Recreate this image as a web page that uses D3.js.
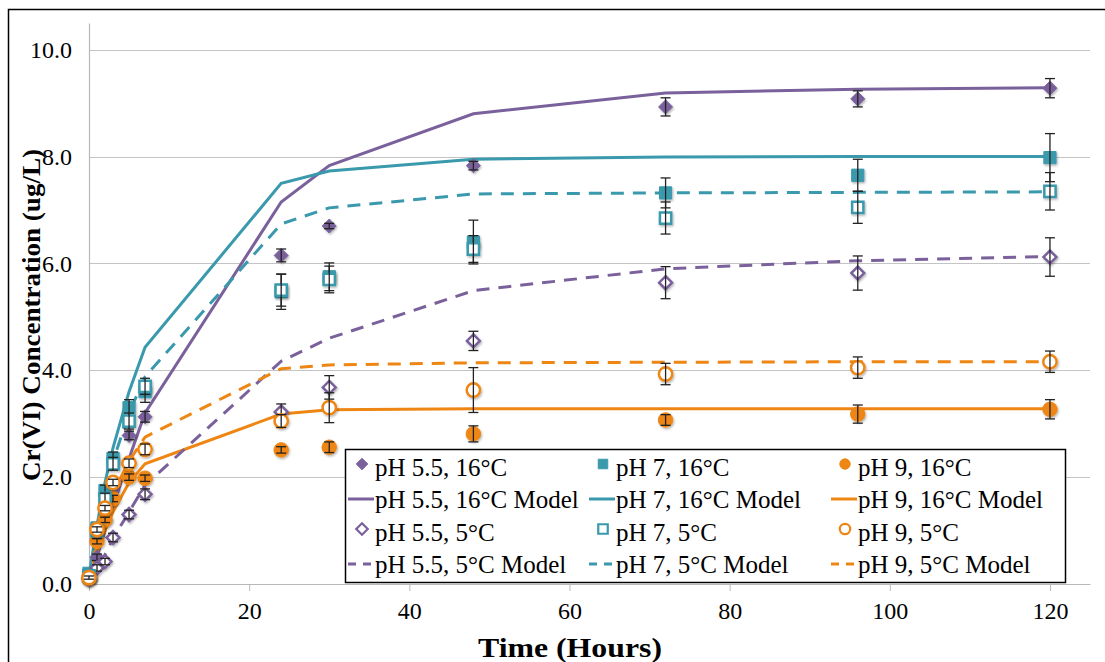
<!DOCTYPE html>
<html>
<head>
<meta charset="utf-8">
<script src="https://cdn.jsdelivr.net/npm/d3@7"></script>
<style>
  html, body { margin: 0; padding: 0; background: #fff; }
  svg { display: block; }
  text { font-family: "Liberation Serif", "Times New Roman", serif; fill: #000; }
</style>
</head>
<body>
<svg id="chart" width="1105" height="662"></svg>
<script>
// sampling times (hours)
const hours = [0, 1, 2, 3, 5, 7, 24, 30, 48, 72, 96, 120];

// measured Cr(VI), ug/L
const ph55_16 = [0.1, 0.5, 1.2, 1.75, 2.78, 3.13, 6.15, 6.7, 7.83, 8.93, 9.08, 9.28];
const ph7_16 = [0.2, 1.05, 1.75, 2.35, 3.3, 3.6, 5.47, 5.75, 6.4, 7.32, 7.65, 7.98];
const ph9_16 = [0.1, 0.8, 1.2, 1.6, 2.0, 1.98, 2.51, 2.56, 2.81, 3.07, 3.18, 3.27];
const ph55_5 = [0.1, 0.3, 0.42, 0.87, 1.3, 1.68, 3.22, 3.68, 4.55, 5.64, 5.82, 6.12];
const ph7_5 = [0.15, 1.0, 1.6, 2.25, 3.05, 3.7, 5.5, 5.7, 6.27, 6.85, 7.05, 7.35];
const ph9_5 = [0.12, 1.02, 1.42, 1.9, 2.26, 2.52, 3.05, 3.3, 3.63, 3.93, 4.05, 4.16];

// error bar half widths
const err55_16 = [0.05, 0.06, 0.06, 0.08, 0.08, 0.1, 0.12, 0.05, 0.08, 0.17, 0.15, 0.18];
const err7_16 = [0.05, 0.08, 0.1, 0.12, 0.15, 0.2, 0.33, 0.26, 0.41, 0.28, 0.3, 0.45];
const err9_16 = [0.03, 0.05, 0.05, 0.06, 0.06, 0.06, 0.06, 0.1, 0.15, 0.1, 0.17, 0.18];
const err55_5 = [0.04, 0.06, 0.06, 0.08, 0.08, 0.1, 0.15, 0.22, 0.18, 0.3, 0.32, 0.36];
const err7_5 = [0.05, 0.08, 0.1, 0.12, 0.15, 0.15, 0.3, 0.25, 0.25, 0.3, 0.3, 0.35];
const err9_5 = [0.03, 0.05, 0.05, 0.06, 0.08, 0.1, 0.12, 0.28, 0.42, 0.2, 0.2, 0.2];

// model curves
const model55_16 = [0.0, 0.5, 1.0, 1.45, 2.35, 3.2, 7.15, 7.83, 8.8, 9.19, 9.26, 9.29];
const model7_16 = [0.15, 1.1, 1.9, 2.55, 3.6, 4.43, 7.5, 7.73, 7.95, 7.99, 8.0, 8.0];
const model9_16 = [0.05, 0.6, 1.0, 1.35, 1.9, 2.25, 3.18, 3.26, 3.28, 3.28, 3.28, 3.28];
const model55_5 = [0.0, 0.28, 0.55, 0.85, 1.35, 1.85, 4.17, 4.6, 5.49, 5.9, 6.05, 6.13];
const model7_5 = [0.1, 1.0, 1.7, 2.3, 3.2, 3.88, 6.74, 7.04, 7.3, 7.32, 7.33, 7.34];
const model9_5 = [0.0, 0.8, 1.3, 1.7, 2.3, 2.75, 4.03, 4.1, 4.14, 4.15, 4.16, 4.16];

const xTicks = [0, 20, 40, 60, 80, 100, 120];
const yTicks = [0, 2, 4, 6, 8, 10];

const legendLabels = [
  "pH 5.5, 16°C", "pH 7, 16°C", "pH 9, 16°C",
  "pH 5.5, 16°C Model", "pH 7, 16°C Model", "pH 9, 16°C Model",
  "pH 5.5, 5°C", "pH 7, 5°C", "pH 9, 5°C",
  "pH 5.5, 5°C Model", "pH 7, 5°C Model", "pH 9, 5°C Model",
];

const PURPLE = "#7a619b";
const TEAL = "#3a99ac";
const ORANGE = "#ee8614";

const svg = d3.select("#chart");

const x = d3.scaleLinear().domain([0, 125]).range([89, 1090]);
const y = d3.scaleLinear().domain([0, 10.5]).range([584, 23]);

// outer frame
svg.append("rect")
  .attr("x", 8.5).attr("y", 9.5)
  .attr("width", 1110).attr("height", 670)
  .attr("fill", "none").attr("stroke", "#000").attr("stroke-width", 1.5);

const shadow = svg.append("defs").append("filter").attr("id", "shadow")
  .attr("x", "-50%").attr("y", "-50%").attr("width", "200%").attr("height", "200%");
shadow.append("feDropShadow").attr("dx", 1).attr("dy", 1.5).attr("stdDeviation", 1.2)
  .attr("flood-color", "#000").attr("flood-opacity", 0.3);

// grid
svg.append("g")
  .selectAll("line")
  .data(yTicks.filter((d) => d > 0))
  .join("line")
  .attr("x1", x(0)).attr("x2", x(125))
  .attr("y1", (d) => Math.round(y(d)) + 0.5).attr("y2", (d) => Math.round(y(d)) + 0.5)
  .attr("stroke", "#c4c4c4").attr("stroke-width", 1.2);

// y axis
const yAxis = svg.append("g")
  .attr("transform", `translate(${x(0)},0)`)
  .call(d3.axisLeft(y).tickValues(yTicks).tickFormat(d3.format(".1f")).tickSize(0).tickPadding(17));
yAxis.select(".domain").attr("stroke", "#b8b8b8").attr("stroke-width", 1.2);
yAxis.selectAll("text").style("font-size", "24px").style("font-family", "Liberation Serif");

// x axis
const xAxis = svg.append("g")
  .attr("transform", `translate(0,${y(0)})`)
  .call(d3.axisBottom(x).tickValues(xTicks).tickSize(7).tickPadding(11).tickSizeOuter(0));
xAxis.select(".domain").attr("stroke", "#b8b8b8").attr("stroke-width", 1.2);
xAxis.selectAll(".tick line").attr("stroke", "#b8b8b8");
xAxis.selectAll("text").style("font-size", "24px").style("font-family", "Liberation Serif");

// axis titles
svg.append("text")
  .attr("x", 570).attr("y", 657)
  .attr("text-anchor", "middle")
  .attr("textLength", 184).attr("lengthAdjust", "spacingAndGlyphs")
  .style("font-size", "27px").style("font-weight", "bold")
  .text("Time (Hours)");

svg.append("text")
  .attr("transform", "translate(40,315) rotate(-90)")
  .attr("text-anchor", "middle")
  .attr("textLength", 332).attr("lengthAdjust", "spacingAndGlyphs")
  .style("font-size", "25px").style("font-weight", "bold")
  .text("Cr(VI) Concentration (ug/L)");

const models = [
  { values: model55_16, color: PURPLE, dash: null },
  { values: model7_16, color: TEAL, dash: null },
  { values: model9_16, color: ORANGE, dash: null },
  { values: model55_5, color: PURPLE, dash: "13,9" },
  { values: model7_5, color: TEAL, dash: "13,9" },
  { values: model9_5, color: ORANGE, dash: "13,9" },
];

const line = d3.line().x((d) => x(d[0])).y((d) => y(d[1]));

models.forEach((m) => {
  svg.append("path")
    .attr("d", line(hours.map((h, i) => [h, m.values[i]])))
    .attr("fill", "none")
    .attr("stroke", m.color)
    .attr("stroke-width", 3)
    .attr("stroke-dasharray", m.dash);
});

const measured = [
  { values: ph55_16, err: err55_16, color: PURPLE, shape: "diamond", filled: true },
  { values: ph7_16, err: err7_16, color: TEAL, shape: "square", filled: true },
  { values: ph9_16, err: err9_16, color: ORANGE, shape: "circle", filled: true },
  { values: ph55_5, err: err55_5, color: PURPLE, shape: "diamond", filled: false },
  { values: ph7_5, err: err7_5, color: TEAL, shape: "square", filled: false },
  { values: ph9_5, err: err9_5, color: ORANGE, shape: "circle", filled: false },
];

const symbolType = { diamond: d3.symbolDiamond2, square: d3.symbolSquare2, circle: d3.symbolCircle };
const symbolArea = { diamond: 125, square: 190, circle: 165 };

function drawMarker(g, s, cx, cy) {
  g.append("path")
    .attr("d", d3.symbol(symbolType[s.shape], symbolArea[s.shape] * (s.filled ? 1 : 0.85))())
    .attr("transform", `translate(${cx},${cy})`)
    .attr("fill", s.filled ? s.color : "#fff")
    .attr("stroke", s.color)
    .attr("stroke-width", s.filled ? 1 : 2.5)
    .attr("filter", "url(#shadow)");
}

measured.forEach((s) => {
  const g = svg.append("g");
  hours.forEach((h, i) => drawMarker(g, s, x(h), y(s.values[i])));
  const eb = svg.append("g").attr("stroke", "#222").attr("stroke-width", 1.3);
  hours.forEach((h, i) => {
    const cx = x(h);
    const lo = y(s.values[i] - s.err[i]);
    const hi = y(s.values[i] + s.err[i]);
    eb.append("line").attr("x1", cx).attr("x2", cx).attr("y1", lo).attr("y2", hi);
    eb.append("line").attr("x1", cx - 5).attr("x2", cx + 5).attr("y1", lo).attr("y2", lo);
    eb.append("line").attr("x1", cx - 5).attr("x2", cx + 5).attr("y1", hi).attr("y2", hi);
  });
});

// legend
const legend = svg.append("g");
legend.append("rect")
  .attr("x", 345.5).attr("y", 449.5).attr("width", 720).attr("height", 133)
  .attr("fill", "#fff").attr("stroke", "#000").attr("stroke-width", 1.5);

const colX = [348, 589, 831];
const rowY = [468, 500, 533, 565];

legendLabels.forEach((label, k) => {
  const row = Math.floor(k / 3);
  const col = k % 3;
  const lx = colX[col];
  const ly = rowY[row];
  if (row === 0 || row === 2) {
    const s = measured[(row === 0 ? 0 : 3) + col];
    legend.append("path")
      .attr("d", d3.symbol(symbolType[s.shape], s.shape === "square" ? 115 : 85)())
      .attr("transform", `translate(${lx + 14},${ly - 4})`)
      .attr("fill", s.filled ? s.color : "#fff")
      .attr("stroke", s.color)
      .attr("stroke-width", s.filled ? 1 : 2.2);
  } else {
    const m = models[(row === 1 ? 0 : 3) + col];
    legend.append("line")
      .attr("x1", lx).attr("x2", lx + 26)
      .attr("y1", ly - 1).attr("y2", ly - 1)
      .attr("stroke", m.color).attr("stroke-width", 3)
      .attr("stroke-dasharray", m.dash ? "8,7" : null);
  }
  legend.append("text")
    .attr("x", lx + 27).attr("y", ly + 8)
    .style("font-size", "25px")
    .text(label);
});
</script>
</body>
</html>
